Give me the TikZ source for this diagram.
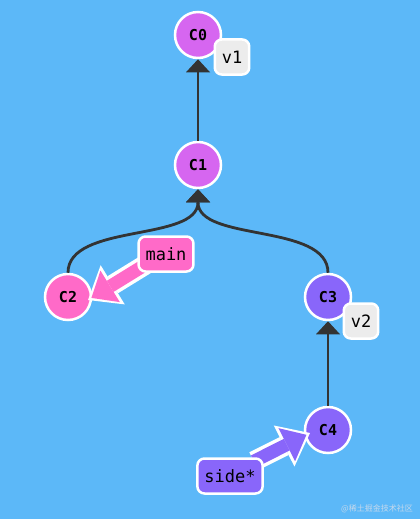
\documentclass[tikz,border=0pt]{standalone}
\usepackage{fontspec}
\setmonofont{DejaVu Sans Mono}
\newfontfamily\cjk{Noto Sans CJK SC}
\usetikzlibrary{positioning, arrows.meta}
\definecolor{sky}{RGB}{92,184,248}
\definecolor{orchid}{RGB}{214,102,240}
\definecolor{rose}{RGB}{255,106,200}
\definecolor{iris}{RGB}{137,102,250}
\definecolor{ink}{RGB}{51,51,51}
\definecolor{tagbg}{RGB}{236,236,236}
\definecolor{wm}{RGB}{196,216,236}
\pgfdeclarelayer{front}
\pgfsetlayers{main,front}

\begin{document}
\begin{tikzpicture}[x=1pt, y=-1pt, on grid,
   commit/.style={circle, draw=white, line width=2.5pt, minimum size=46pt, inner sep=0pt,
                  font=\fontsize{15}{15}\ttfamily\bfseries},
   tag/.style={rounded corners=7pt, draw=white, line width=2.5pt, inner xsep=7pt,
               minimum height=35pt, font=\fontsize{17}{17}\ttfamily},
   parent/.style={draw=ink, line width=2.8pt, -{Triangle[length=13pt, width=24pt, line width=0pt]}},
   branchhalo/.style={draw=white, line width=20pt,
                      -{Triangle[length=29pt, width=46pt, line width=0pt]}},
   branchbody/.style={draw=#1, line width=13pt, shorten >=4pt,
                      -{Triangle[length=22pt, width=37pt, line width=0pt]}}]
   \fill[sky] (0,0) rectangle (420,519);

   % commits
   \node[commit, fill=orchid] (C0) at (198,35) {C0};
   \node[commit, fill=orchid] (C1) [below=130pt of C0] {C1};
   \node[commit, fill=rose] (C2) [below left=132pt and 130pt of C1] {C2};
   \node[commit, fill=iris] (C3) [below right=132pt and 130pt of C1] {C3};
   \node[commit, fill=iris] (C4) [below=133pt of C3] {C4};

   % tags and branches
   \begin{pgfonlayer}{front}
   \node[tag, fill=tagbg] (v1) [below right=22pt and 34pt of C0] {v1};
   \node[tag, fill=tagbg] (v2) [below right=24pt and 33pt of C3] {v2};
   \node[tag, fill=rose] (main) [above right=43pt and 98pt of C2] {main};
   \node[tag, fill=iris] (side) [below left=46pt and 98pt of C4] {side*};
   \end{pgfonlayer}

   % parent links
   \draw[parent] (C1) -- (C0);
   \draw[parent] (C2.north) .. controls +(0,-50) and +(0,53) .. (C1.south);
   \draw[parent] (C3.north) .. controls +(0,-50) and +(0,53) .. (C1.south);
   \draw[parent] (C4) -- (C3);

   % branch pointers
   \draw[branchhalo] ([shift={(8,-8)}]main.south west) -- ([shift={(20,3)}]C2.center);
   \draw[branchbody=rose] ([shift={(8,-8)}]main.south west) -- ([shift={(20,3)}]C2.center);
   \draw[branchhalo] ([shift={(-10,4)}]side.north east) -- ([shift={(-18,3)}]C4.center);
   \draw[branchbody=iris] ([shift={(-10,4)}]side.north east) -- ([shift={(-18,3)}]C4.center);

   \node[font=\cjk\fontsize{8}{8}\selectfont, text=wm] (mark) at (377,509) {@稀土掘金技术社区};
\end{tikzpicture}
\end{document}
